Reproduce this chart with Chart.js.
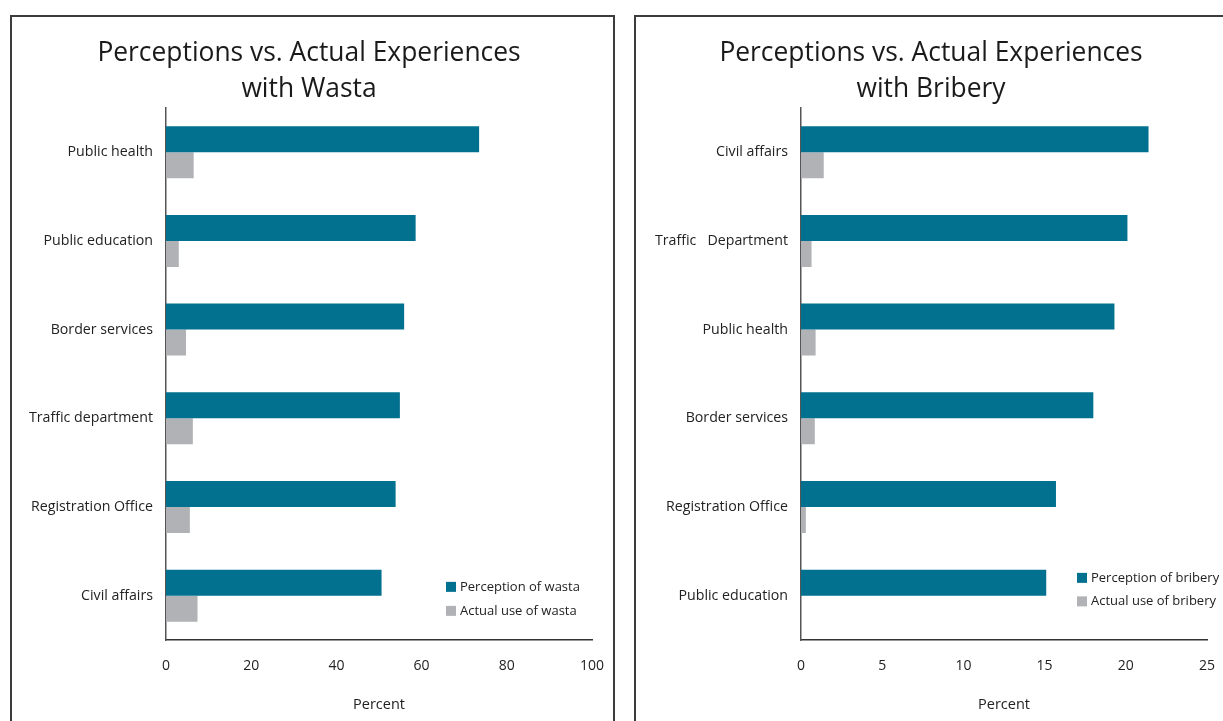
<!DOCTYPE html>
<html>
<head>
<meta charset="utf-8">
<script src="https://cdn.jsdelivr.net/npm/chart.js@4/dist/chart.umd.min.js"></script>
<style>
  html, body { margin: 0; padding: 0; background: #fff; overflow: hidden; }
  body { width: 1223px; height: 721px; position: relative; }
  .panel { position: absolute; border: 2px solid #3c3c3c; box-sizing: border-box; }
  #p1 { left: 10px; top: 15px; width: 605px; height: 740px; }
  #p2 { left: 634px; top: 15px; width: 620px; height: 740px; }
  .wrap { position: absolute; }
  #w1 { left: 12px; top: 18px; width: 600px; height: 703px; }
  #w2 { left: 636px; top: 18px; width: 590px; height: 703px; }
</style>
</head>
<body>
<div class="panel" id="p1"></div>
<div class="panel" id="p2"></div>
<div class="wrap" id="w1"><canvas id="c1"></canvas></div>
<div class="wrap" id="w2"><canvas id="c2"></canvas></div>
<script>
// ---- Data: Wasta ----
const wastaCategories = ["Public health", "Public education", "Border services", "Traffic department", "Registration Office", "Civil affairs"];
const wastaPerception = [73.5, 58.6, 55.9, 54.9, 53.9, 50.6];
const wastaActual = [6.5, 3.0, 4.7, 6.3, 5.6, 7.4];
const wastaTicks = [0, 20, 40, 60, 80, 100];
const wastaTitle = ["Perceptions vs. Actual Experiences", "with Wasta"];
const wastaLegend = ["Perception of wasta", "Actual use of wasta"];

// ---- Data: Bribery ----
const briberyCategories = ["Civil affairs", "Traffic   Department", "Public health", "Border services", "Registration Office", "Public education"];
const briberyPerception = [21.4, 20.1, 19.3, 18.0, 15.7, 15.1];
const briberyActual = [1.4, 0.65, 0.9, 0.85, 0.3, 0];
const briberyTicks = [0, 5, 10, 15, 20, 25];
const briberyTitle = ["Perceptions vs. Actual Experiences", "with Bribery"];
const briberyLegend = ["Perception of bribery", "Actual use of bribery"];

const axisLabel = "Percent";
const TEAL = "#02708f";
const GRAY = "#b1b2b6";
const FONT = "'Open Sans', 'DejaVu Sans', sans-serif";

const legendPlugin = {
  id: 'customLegend',
  afterDraw(chart, args, opts) {
    const ctx = chart.ctx;
    const ca = chart.chartArea;
    ctx.save();
    ctx.font = "13px " + FONT;
    ctx.textBaseline = 'middle';
    ctx.textAlign = 'left';
    chart.data.datasets.forEach((ds, i) => {
      const cy = ca.top + opts.y + i * opts.gap;
      const x = ca.left + opts.x;
      ctx.fillStyle = ds.backgroundColor;
      ctx.fillRect(x, cy - 5, 10, 10);
      ctx.fillStyle = '#222';
      ctx.fillText(ds.label, x + 14, cy);
    });
    ctx.restore();
  }
};

function makeChart(id, cats, perc, act, ticks, title, legend, yWidth, padLeft, padRight, legendPos) {
  return new Chart(document.getElementById(id), {
    type: 'bar',
    data: {
      labels: cats,
      datasets: [
        { label: legend[0], data: perc, backgroundColor: TEAL },
        { label: legend[1], data: act, backgroundColor: GRAY }
      ]
    },
    plugins: [legendPlugin],
    options: {
      indexAxis: 'y',
      responsive: true,
      maintainAspectRatio: false,
      animation: false,
      categoryPercentage: 0.586,
      barPercentage: 1.0,
      layout: { padding: { left: padLeft, right: padRight, top: 0, bottom: 0 } },
      plugins: {
        legend: { display: false },
        tooltip: { enabled: false },
        title: {
          display: true,
          text: title,
          color: '#1a1a1a',
          font: { family: FONT, size: 26.4, weight: 'normal', lineHeight: 1.38 },
          padding: { top: 17, bottom: 0 }
        },
        customLegend: legendPos
      },
      scales: {
        x: {
          min: ticks[0],
          max: ticks[ticks.length - 1],
          grid: { display: false, drawTicks: false },
          border: { display: true, color: '#333', width: 1.5 },
          ticks: {
            stepSize: ticks[1] - ticks[0],
            color: '#222',
            font: { family: FONT, size: 14 },
            padding: 18,
            maxRotation: 0
          },
          title: {
            display: true,
            text: axisLabel,
            color: '#222',
            font: { family: FONT, size: 14.5 },
            padding: { top: 0, bottom: 7 }
          },
          afterFit(scale) {
            scale.height = 81;
            scale.paddingLeft = 0;
            scale.paddingRight = 0;
          }
        },
        y: {
          grid: { display: false, drawTicks: false },
          border: { display: true, color: '#555', width: 1.5 },
          ticks: {
            color: '#222',
            font: { family: FONT, size: 14.2 },
            padding: 13
          },
          afterFit(scale) { scale.width = yWidth; }
        }
      }
    }
  });
}

makeChart('c1', wastaCategories, wastaPerception, wastaActual, wastaTicks, wastaTitle, wastaLegend, 140, 14, 20, { x: 280, y: 479, gap: 24 });
makeChart('c2', briberyCategories, briberyPerception, briberyActual, briberyTicks, briberyTitle, briberyLegend, 146, 19, 19, { x: 276, y: 470, gap: 23.5 });
</script>
</body>
</html>
